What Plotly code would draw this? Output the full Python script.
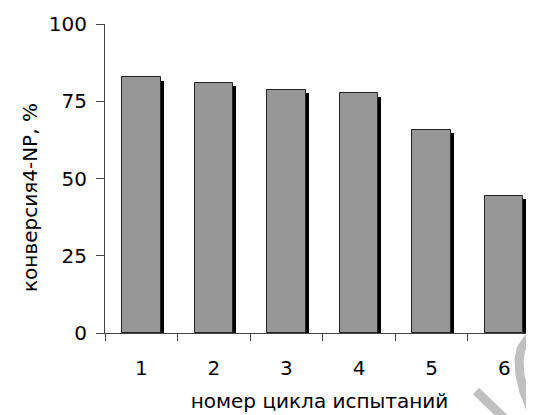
import plotly.graph_objects as go

categories = ["1", "2", "3", "4", "5", "6"]
conversion = [82.7, 80.9, 78.8, 77.6, 65.8, 44.4]
y_ticks = [0, 25, 50, 75, 100]

FONT = "DejaVu Sans"
OFF = 8  # page body margin offset
W, H = 534 - OFF, 415 - OFF
ML, MR, MT, MB = 105 - OFF, 0, 24 - OFF, 82
PW, PH = W - ML - MR, H - MT - MB

BAR_W = 0.53
SH_DX = 0.042
SH_DY = 1.1

fig = go.Figure()
fig.add_trace(go.Bar(
    x=categories, y=conversion, base=-SH_DY,
    width=BAR_W, offset=-BAR_W / 2 + SH_DX,
    marker=dict(color="black", line=dict(width=0)),
    hoverinfo="skip", showlegend=False,
))
fig.add_trace(go.Bar(
    x=categories, y=conversion,
    width=BAR_W, offset=-BAR_W / 2,
    marker=dict(color="#979797", line=dict(color="#222222", width=1)),
    showlegend=False,
))


def px(xp, yp):
    # page pixel coords -> paper coords
    return (xp - OFF - ML) / PW, (H - MB - (yp - OFF)) / PH


def path(points):
    s = ""
    for i, (a, b) in enumerate(points):
        X, Y = px(a, b)
        s += ("M" if i == 0 else "L") + f"{X:.4f},{Y:.4f} "
    return s


# decorative watermark strokes (bottom right)
fig.add_shape(type="path", xref="paper", yref="paper",
              path=path([(476, 391), (504, 418)]),
              line=dict(color="#c0c0c0", width=9), layer="above")
fig.add_shape(type="path", xref="paper", yref="paper",
              path=path([(533, 333), (527, 340), (521, 349), (519, 360),
                         (520, 375), (524, 392), (529, 405), (533, 418)]),
              line=dict(color="#c0c0c0", width=9), layer="above")

tx, ty = px(30, 198)
fig.add_annotation(
    text="конверсия4-NP, %", xref="paper", yref="paper", x=tx, y=ty,
    xanchor="center", yanchor="middle", textangle=-90, showarrow=False,
    font=dict(family=FONT, size=20, color="black"),
)

fig.update_layout(
    width=W, height=H,
    margin=dict(l=ML, r=MR, t=MT, b=MB, pad=0),
    paper_bgcolor="white", plot_bgcolor="rgba(0,0,0,0)",
    barmode="overlay", bargap=0,
    font=dict(family=FONT, size=20, color="black"),
    xaxis=dict(
        type="category", range=[-0.5, 5.41],
        showline=True, linecolor="#444444", linewidth=1,
        ticks="outside", tickson="boundaries", ticklen=7, tickcolor="#444444",
        showgrid=False, zeroline=False,
        tickfont=dict(family=FONT, size=20),
        ticklabelstandoff=17,
        title=dict(text="номер цикла испытаний", font=dict(family=FONT, size=20), standoff=14),
    ),
    yaxis=dict(
        range=[0, 100], tickvals=y_ticks,
        showline=True, linecolor="#444444", linewidth=1,
        ticks="outside", ticklen=8, tickcolor="#444444",
        showgrid=False, zeroline=False,
        tickfont=dict(family=FONT, size=20),
        ticklabelstandoff=5,
    ),
)

fig.write_html("out.html")
